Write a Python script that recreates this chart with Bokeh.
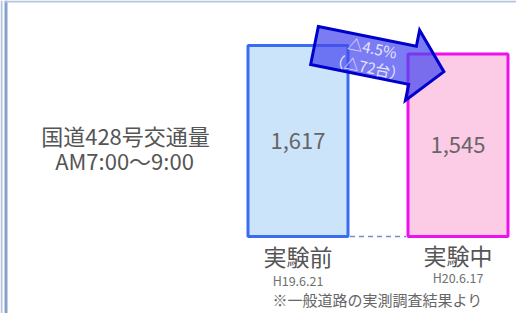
import math
from bokeh.plotting import figure
from bokeh.models import ColumnDataSource, Range1d
from bokeh.core.properties import value
from bokeh.embed import file_html
from bokeh.resources import INLINE

# ---- data ----
periods = ["実験前", "実験中"]
dates = ["H19.6.21", "H20.6.17"]
traffic = [1617, 1545]
traffic_labels = ["1,617", "1,545"]
change_pct_label = "△4.5%"
change_cnt_label = "（△72台）"
title_lines = ["国道428号交通量", "AM7:00～9:00"]
note = "※一般道路の実測調査結果より"

W, H = 516, 313
FONT = "Noto Sans CJK JP"

# scales (pixel layout of the reference, page margin 8px)
k = traffic[0] / 191.0          # value units per pixel
x_per_px = 1 / 160.0            # category spacing = 160 px
y0_ref = 244                    # baseline in reference pixels
x0_ref = 305.5                  # first bar centre
x_start = -(x0_ref - 8) * x_per_px
x_end = x_start + W * x_per_px
y_end = (y0_ref - 8) * k
y_start = y_end - H * k


def px2x(rx):
    return x_start + (rx - 8) * x_per_px


def px2y(ry):
    return y_end - (ry - 8) * k


p = figure(width=W, height=H, output_backend="svg", toolbar_location=None,
           x_range=Range1d(x_start, x_end), y_range=Range1d(y_start, y_end),
           min_border=0)
p.axis.visible = False
p.grid.visible = False
p.outline_line_color = None
p.background_fill_color = "white"
p.border_fill_color = "white"

# frame decoration (double line on left, line on top)
p.quad(left=[px2x(8)], right=[px2x(10)], bottom=[y_start], top=[y_end],
       fill_color="#b4c6de", line_color=None)
p.quad(left=[px2x(12)], right=[px2x(15)], bottom=[y_start], top=[y_end],
       fill_color="#86a2c8", line_color=None)
p.quad(left=[px2x(12)], right=[x_end], bottom=[px2y(10)], top=[y_end],
       fill_color="#b4c6de", line_color=None)

xs = list(range(len(traffic)))
bar_w = 100 * x_per_px
src = ColumnDataSource(dict(x=xs, top=traffic, fill=["#cce4fa", "#fccbe5"],
                            line=["#3a6cf0", "#ee10ee"],
                            lab=traffic_labels, mid=[t / 2 for t in traffic]))
p.vbar(x="x", top="top", bottom=0, width=bar_w, source=src,
       fill_color="fill", line_color="line", line_width=3)

# dashed connector at baseline
p.segment(x0=[xs[0] + bar_w / 2 + 2 * x_per_px], y0=[0],
          x1=[xs[1] - bar_w / 2 - 2 * x_per_px], y1=[0],
          line_color="#6f8fcf", line_width=1.5, line_dash="5 4")

# value labels
p.text(x="x", y="mid", text="lab", source=src, text_align="center",
       text_baseline="middle", text_font=value(FONT), text_font_size="22px",
       text_color="#666666")

# category labels and dates
p.text(x=xs, y=[-19 * k, -18 * k], text=periods, text_align="center",
       text_baseline="middle", text_font=value(FONT), text_font_size="23px",
       text_color="#555555")
p.text(x=xs, y=[-44 * k, -41 * k], text=dates, text_align="center",
       text_baseline="middle", text_font=value(FONT), text_font_size="12.5px",
       text_color="#707070")
p.text(x=[px2x(385)], y=[px2y(307)], text=[note], text_align="center",
       text_baseline="middle", text_font=value(FONT), text_font_size="15px",
       text_color="#666666")

# left title
p.text(x=[px2x(133), px2x(132)], y=[px2y(142), px2y(167)], text=title_lines,
       text_align="center", text_baseline="middle", text_font=value(FONT),
       text_font_size="22px", text_color="#555555")

# arrow (built in pixel space, converted to data)
theta = math.atan2(20, 99)
ux, uy = math.cos(theta), math.sin(theta)
nx, ny = -math.sin(theta), math.cos(theta)
tx, ty = 322, 53
body_len, head_len = 100, 32
bw, hw = 19.4, 35.8
bx, by = tx + ux * body_len, ty + uy * body_len
pts = [
    (tx - nx * bw, ty - ny * bw),
    (bx - nx * bw, by - ny * bw),
    (bx - nx * hw, by - ny * hw),
    (bx + ux * head_len, by + uy * head_len),
    (bx + nx * hw, by + ny * hw),
    (bx + nx * bw, by + ny * bw),
    (tx + nx * bw, ty + ny * bw),
]
p.patch(x=[px2x(a) for a, b in pts], y=[px2y(b) for a, b in pts],
        fill_color="#4848f0", fill_alpha=0.72, line_color="#0000cc",
        line_width=3, line_join="miter")

p.text(x=[px2x(380), px2x(375)], y=[px2y(55), px2y(74)],
       text=[change_pct_label, change_cnt_label], angle=-theta,
       text_align="center", text_baseline="middle", text_font=value(FONT),
       text_font_size="15px", text_color="#e6e6ff")

open("out.html", "w").write(file_html(p, INLINE))
